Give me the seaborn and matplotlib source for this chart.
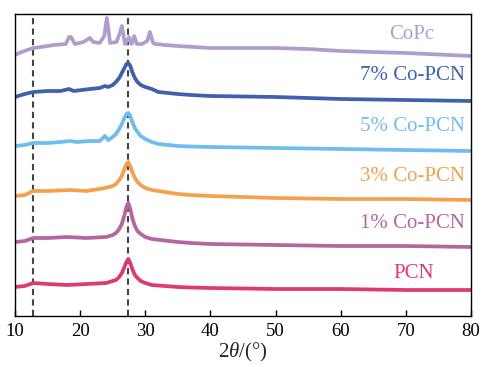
import numpy as np
import pandas as pd
import matplotlib
matplotlib.use("Agg")
import matplotlib.pyplot as plt
import seaborn as sns

# ---------------- data (stacked intensities, arbitrary units) ----------------
samples = ["PCN", "1% Co-PCN", "3% Co-PCN", "5% Co-PCN", "7% Co-PCN", "CoPc"]
colors = ["#df3a6f", "#b565a0", "#f5a04e", "#6fbdf0", "#3e60ad", "#b19dcb"]

peak_x = [25.0, 25.5, 26.0, 26.4, 26.8, 27.1, 27.4, 27.7, 28.0, 28.4, 28.8, 29.3, 30.0, 31.0]

pcn_x = [10, 11.5, 12.8, 15, 18, 21, 24] + peak_x + [33, 35, 37, 40, 45, 50, 60, 70, 80]
pcn_y = [29, 30, 33, 32, 31, 32, 33,
         35, 36, 39, 43, 49, 54, 57, 53, 47, 41, 38, 35, 33, 31,
         30, 29, 28.5, 28, 27.5, 27, 27, 26, 26]

p1_x = [10, 11.5, 12.8, 15, 18, 21, 24] + peak_x + [33, 35, 37, 40, 45, 50, 60, 70, 80]
p1_y = [74, 75, 78, 78, 79, 78, 79,
        81, 83, 87, 92, 101, 109, 113, 107, 98, 90, 85, 82, 79, 77,
        75.5, 74, 73, 72, 71.5, 71, 70, 70, 69]

p3_x = [10, 11.5, 12.8, 15, 18.5, 21, 23.8] + peak_x + [33, 35, 37, 40, 45, 50, 60, 70, 80]
p3_y = [120, 121, 125, 125, 126, 125, 128,
        130, 132, 136, 140, 147, 152, 154, 150, 144, 138, 134, 131, 128, 126,
        124, 122, 121, 120, 119, 118, 117, 117, 116]

p5_x = [10, 11.5, 12.8, 15, 17, 18.5, 19.5, 21.5, 23.0, 23.8, 24.3] + peak_x + [32, 33.5, 35, 37, 40, 45, 50, 60, 70, 80]
p5_y = [170, 171, 173, 173, 174, 175, 174, 175, 175, 180, 176,
        179, 182, 187, 192, 198, 202, 203, 200, 194, 188, 184, 180, 177, 174,
        172, 171, 170, 169.5, 169, 168.5, 168, 167, 166, 165]

p7_x = [10, 11.5, 12.8, 15, 17, 18.3, 19, 21.5, 23.0, 23.8, 24.3] + peak_x + [32, 33.5, 35, 37, 40, 45, 50, 60, 70, 80]
p7_y = [219, 222, 224, 225, 225, 227, 225, 227, 228, 230, 229,
        231, 234, 238, 243, 248, 252, 253, 250, 244, 238, 234, 231, 229, 227,
        224, 223, 222, 221, 220, 219.5, 219, 217, 216, 215]

copc_x = [10, 11, 12.8, 14, 16, 17.8, 18.3, 18.6, 19.2, 20.5, 21.5, 22.0, 23.0, 23.7, 24.1, 24.6, 25.6, 26.2, 26.4, 26.9, 27.3, 27.5, 27.9, 28.3, 28.7, 29.5, 30.3, 30.7, 31.2, 31.6, 33, 35, 40, 50, 55, 60, 70, 80]
copc_y = [261, 264, 268, 269, 271, 272, 279, 279, 272, 274, 278, 274, 273, 280, 298, 273, 274, 285, 290, 272, 276, 279, 272, 280, 272, 272, 275, 284, 273, 272, 271, 270, 268, 268, 267, 265, 263, 260]

label_y = [43, 92, 139, 189, 240, 281]
label_x = [74.3, 79.1, 79.1, 79.1, 79.1, 74.3]
ref_lines = [12.8, 27.4]
xticks = [10, 20, 30, 40, 50, 60, 70, 80]

# ---------------- build table ----------------
xs = [pcn_x, p1_x, p3_x, p5_x, p7_x, copc_x]
ys = [pcn_y, p1_y, p3_y, p5_y, p7_y, copc_y]
frames = []
for name, x, y in zip(samples, xs, ys):
    frames.append(pd.DataFrame({"two_theta": x, "intensity": y, "sample": name}))
df = pd.concat(frames, ignore_index=True)

# ---------------- style ----------------
sns.set_style("ticks")
plt.rcParams["font.family"] = ["Liberation Serif", "DejaVu Serif"]
plt.rcParams["mathtext.fontset"] = "custom"
plt.rcParams["mathtext.rm"] = "Liberation Serif"
plt.rcParams["mathtext.it"] = "Liberation Serif:italic"

fig = plt.figure(figsize=(4.82, 3.67), dpi=100)
ax = fig.add_axes([15 / 482, 51 / 367, 456 / 482, 302 / 367])

for xv in ref_lines:
    ax.axvline(xv, color="#444444", lw=1.5, ls=(0, (3, 2)), zorder=1)

sns.lineplot(data=df, x="two_theta", y="intensity", hue="sample",
             palette=dict(zip(samples, colors)), hue_order=samples,
             lw=2.7, legend=False, ax=ax, sort=True, estimator=None, zorder=2)
for ln in ax.get_lines():
    ln.set_solid_joinstyle("round")
    ln.set_solid_capstyle("round")

for name, c, tx, ty in zip(samples, colors, label_x, label_y):
    ax.text(tx, ty, name, color=c, fontsize=15, ha="right", va="center")

ax.set_xlim(10, 80)
ax.set_ylim(0, 302)
ax.set_xticks(xticks)
ax.set_xticklabels([str(t) for t in xticks], fontsize=13.5)
ax.set_yticks([])
ax.tick_params(axis="x", direction="in", length=4, width=1, pad=5, colors="black")
ax.set_xlabel(r"2$\theta$/(°)", fontsize=15, labelpad=1)
ax.set_ylabel("")
for s in ax.spines.values():
    s.set_visible(True)
    s.set_linewidth(1.0)
    s.set_color("black")

fig.savefig("out.png", dpi=100)
